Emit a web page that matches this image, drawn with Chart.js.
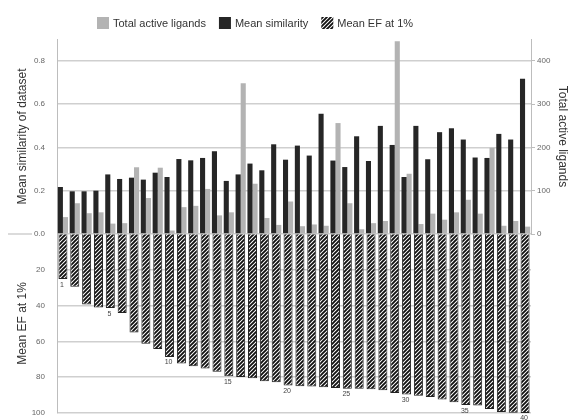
<!DOCTYPE html>
<html>
<head>
<meta charset="utf-8">
<script src="https://cdn.jsdelivr.net/npm/chart.js@4.4.0/dist/chart.umd.min.js"></script>
<style>
  body { margin: 0; background: #fff; overflow: hidden; }
  #wrap { position: relative; width: 570px; height: 420px; overflow: hidden; }
  canvas { position: absolute; left: 0; }
  #chart-top { top: 0; z-index: 2; }
  #chart-bottom { top: 216px; z-index: 1; }
</style>
</head>
<body>
<div id="wrap">
  <canvas id="chart-bottom" width="570" height="215"></canvas>
  <canvas id="chart-top" width="570" height="252"></canvas>
</div>
<script>
const datasetNo = [1, 2, 3, 4, 5, 6, 7, 8, 9, 10, 11, 12, 13, 14, 15, 16, 17, 18, 19, 20,
                   21, 22, 23, 24, 25, 26, 27, 28, 29, 30, 31, 32, 33, 34, 35, 36, 37, 38, 39, 40];

const meanSimilarity = [0.217, 0.197, 0.197, 0.200, 0.275, 0.254, 0.260, 0.251, 0.283, 0.263,
                        0.346, 0.340, 0.351, 0.382, 0.245, 0.275, 0.325, 0.294, 0.414, 0.343,
                        0.408, 0.362, 0.555, 0.339, 0.309, 0.451, 0.337, 0.499, 0.411, 0.263,
                        0.499, 0.345, 0.470, 0.488, 0.436, 0.353, 0.351, 0.462, 0.436, 0.717];

const totalActives = [39, 71, 48, 50, 24, 25, 154, 83, 153, 8,
                      62, 65, 104, 43, 50, 348, 116, 37, 21, 75,
                      18, 22, 19, 256, 71, 11, 25, 30, 445, 139,
                      23, 47, 33, 50, 79, 47, 199, 19, 30, 17];

const meanEF = [25.2, 29.5, 39.4, 41.0, 41.4, 44.2, 55.0, 61.3, 64.2, 68.7,
                72.4, 73.9, 75.2, 76.9, 79.5, 79.9, 80.6, 82.3, 82.8, 84.7,
                85.1, 85.2, 85.6, 86.0, 86.4, 86.5, 86.7, 87.3, 88.8, 89.7,
                90.3, 91.0, 92.5, 94.0, 95.6, 95.8, 97.7, 99.5, 99.9, 100];

const simTicks = [0, 0.2, 0.4, 0.6, 0.8];
const activeTicks = [0, 100, 200, 300, 400];
const efTicks = [20, 40, 60, 80, 100];
const markedNo = [1, 5, 10, 15, 20, 25, 30, 35, 40];

const FONT = 'Liberation Sans, Arial, sans-serif';
const GRID = '#cfcfcf';
const AXIS = '#bdbdbd';

function makeHatch() {
    const c = document.createElement('canvas');
    c.width = 4;
    c.height = 4;
    const g = c.getContext('2d');
    g.fillStyle = '#fff';
    g.fillRect(0, 0, 4, 4);
    g.strokeStyle = '#111';
    g.lineWidth = 1.9;
    g.beginPath();
    g.moveTo(0, 4); g.lineTo(4, 0);
    g.moveTo(-1, 1); g.lineTo(1, -1);
    g.moveTo(3, 5); g.lineTo(5, 3);
    g.stroke();
    return g.createPattern(c, 'repeat');
}

const hatch = makeHatch();

function keepTicks(list) {
    return function(scale) {
        scale.ticks = scale.ticks.filter(t => list.some(v => Math.abs(v - t.value) < 1e-9));
    };
}

// legend drawn by hand so the plot top stays where it is in the picture
const legendPlugin = {
    id: 'handLegend',
    afterDraw(chart) {
        const ctx = chart.ctx;
        const items = [
            { text: 'Total active ligands', fill: '#b3b3b3' },
            { text: 'Mean similarity', fill: '#262626' },
            { text: 'Mean EF at 1%', fill: hatch },
        ];
        let x = 97;
        const y = 23;
        ctx.save();
        ctx.font = '11px ' + FONT;
        ctx.textBaseline = 'middle';
        items.forEach(item => {
            ctx.fillStyle = item.fill;
            ctx.fillRect(x, y - 6, 12, 12);
            ctx.fillStyle = '#333';
            ctx.fillText(item.text, x + 16, y + 1);
            x += 16 + ctx.measureText(item.text).width + 13;
        });

        // short grey stroke left of the 0.0 label, as in the picture
        const y0 = chart.scales.ySim.getPixelForValue(0);
        ctx.strokeStyle = GRID;
        ctx.lineWidth = 1.5;
        ctx.beginPath();
        ctx.moveTo(8, y0);
        ctx.lineTo(32, y0);
        ctx.stroke();
        ctx.restore();
    }
};

const numberPlugin = {
    id: 'barNumbers',
    afterDatasetsDraw(chart) {
        const ctx = chart.ctx;
        const meta = chart.getDatasetMeta(0);
        ctx.save();
        ctx.font = '7px ' + FONT;
        ctx.fillStyle = '#444';
        ctx.textAlign = 'center';
        ctx.textBaseline = 'top';
        markedNo.forEach(n => {
            const bar = meta.data[datasetNo.indexOf(n)];
            ctx.fillText(String(n), bar.x - 1, bar.y + 2);
        });
        ctx.restore();
    }
};

function setTopChart() {
    const ctx = document.getElementById('chart-top');

    const data = {
        labels: datasetNo,
        datasets: [
            {
                label: 'Mean similarity',
                data: meanSimilarity,
                backgroundColor: '#262626',
                yAxisID: 'ySim',
                categoryPercentage: 0.86,
                barPercentage: 1,
            },
            {
                label: 'Total active ligands',
                data: totalActives,
                backgroundColor: '#b3b3b3',
                yAxisID: 'yTot',
                categoryPercentage: 0.86,
                barPercentage: 1,
            },
        ],
    };

    const config = {
        type: 'bar',
        data: data,
        options: {
            responsive: false,
            animation: false,
            layout: { padding: { top: 39, bottom: 18, left: 0, right: 0 } },
            plugins: {
                legend: { display: false },
                tooltip: { enabled: false },
            },
            scales: {
                x: { display: false },
                ySim: {
                    position: 'left',
                    min: 0,
                    max: 0.9,
                    ticks: {
                        stepSize: 0.2,
                        padding: 12,
                        color: '#666',
                        font: { family: FONT, size: 8 },
                        callback: v => v.toFixed(1),
                    },
                    afterBuildTicks: keepTicks(simTicks),
                    afterFit: s => { s.width = 57; },
                    grid: { color: GRID, lineWidth: 1.5, drawTicks: false },
                    border: { color: AXIS },
                    title: {
                        display: true,
                        text: 'Mean similarity of dataset',
                        color: '#333',
                        font: { family: FONT, size: 12 },
                        padding: { top: 15, bottom: 0 },
                    },
                },
                yTot: {
                    position: 'right',
                    min: 0,
                    max: 450,
                    ticks: {
                        stepSize: 100,
                        padding: 2,
                        color: '#666',
                        font: { family: FONT, size: 8 },
                    },
                    afterBuildTicks: keepTicks(activeTicks),
                    afterFit: s => { s.width = 39; },
                    grid: { drawOnChartArea: false, drawTicks: true, tickLength: 4, color: AXIS },
                    border: { color: AXIS },
                    title: {
                        display: true,
                        text: 'Total active ligands',
                        color: '#333',
                        font: { family: FONT, size: 12 },
                        padding: { top: 0, bottom: 0 },
                    },
                },
            },
        },
        plugins: [legendPlugin],
    };

    new Chart(ctx, config);
}

function setBottomChart() {
    const ctx = document.getElementById('chart-bottom');

    const data = {
        labels: datasetNo,
        datasets: [
            {
                label: 'Mean EF at 1%',
                data: meanEF,
                backgroundColor: hatch,
                borderColor: '#222',
                borderWidth: 1,
                categoryPercentage: 1,
                barPercentage: 0.76,
            },
        ],
    };

    const config = {
        type: 'bar',
        data: data,
        options: {
            responsive: false,
            animation: false,
            layout: { padding: { top: 18, bottom: 18, left: 0, right: 39 } },
            plugins: {
                legend: { display: false },
                tooltip: { enabled: false },
            },
            scales: {
                x: { display: false },
                y: {
                    position: 'left',
                    reverse: true,
                    min: 0,
                    max: 100,
                    ticks: {
                        stepSize: 20,
                        padding: 12,
                        color: '#666',
                        font: { family: FONT, size: 8 },
                    },
                    afterBuildTicks: keepTicks(efTicks),
                    afterFit: s => { s.width = 57; },
                    grid: { color: GRID, lineWidth: 1.5, drawTicks: false },
                    border: { color: AXIS },
                    title: {
                        display: true,
                        text: 'Mean EF at 1%',
                        color: '#333',
                        font: { family: FONT, size: 12 },
                        padding: { top: 15, bottom: 0 },
                    },
                },
            },
        },
        plugins: [numberPlugin],
    };

    new Chart(ctx, config);
}

setBottomChart();
setTopChart();
</script>
</body>
</html>
